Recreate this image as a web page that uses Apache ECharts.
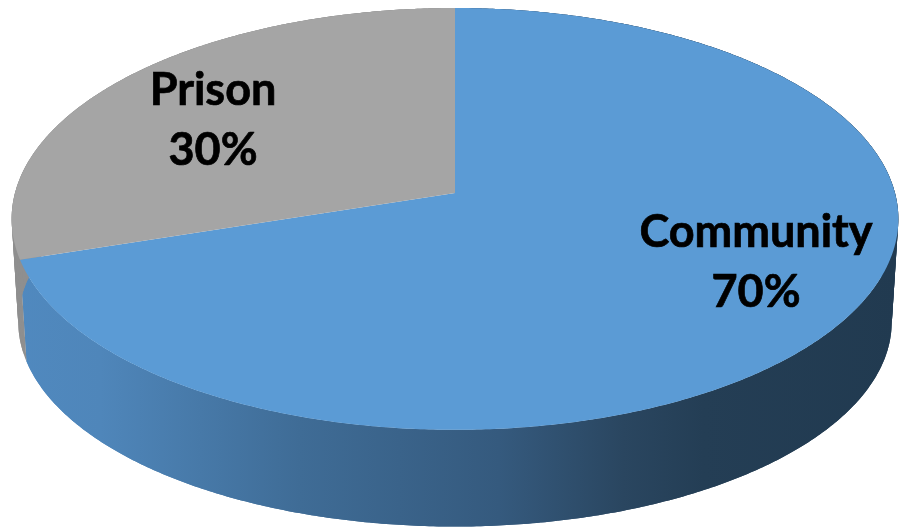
<!DOCTYPE html>
<html>
<head>
<meta charset="utf-8">
<style>html,body{margin:0;padding:0;background:#fff}#c{width:903px;height:530px}</style>
<script src="https://cdn.jsdelivr.net/npm/echarts@6/dist/echarts.min.js"></script>
</head>
<body>
<div id="c"></div>
<script>
var categories = ['Community', 'Prison'];
var values = [70, 30];

var total = values[0] + values[1];
var CX = 455, APEX = 193, K = 440, C = 0.123, A = -184;
var E_Y = 219, BOTTOM_Y = 322, SX = 0.985, SY = 0.97;

function topRim(deg) {
  var r = deg * Math.PI / 180, u = Math.sin(r), v = Math.cos(r), d = 1 + C * v;
  return [CX + K * u / d, (A * v + APEX) / d];
}
function bottomRim(deg) {
  var p = topRim(deg);
  return [CX + SX * (p[0] - CX), BOTTOM_Y + SY * (p[1] - E_Y)];
}
function arc(fn, a, b) {
  var pts = [], n = Math.max(2, Math.ceil(Math.abs(b - a) * 2)), i;
  for (i = 0; i <= n; i++) pts.push(fn(a + (b - a) * i / n));
  return pts;
}
function startAngle(idx) {
  var s = 0, i;
  for (i = 0; i < idx; i++) s += values[i];
  return s / total * 360;
}
var blueSide = new echarts.graphic.LinearGradient(12, 0, 898, 0, [
  {offset: 0, color: '#5089bf'},
  {offset: 0.1, color: '#4f86ba'},
  {offset: 0.325, color: '#3f6c96'},
  {offset: 0.55, color: '#355a7e'},
  {offset: 0.69, color: '#2a4660'},
  {offset: 0.78, color: '#243e55'},
  {offset: 1, color: '#213a50'}
], true);
var style = {
  Community: {face: '#5b9bd5', side: blueSide, labelDx: 301, labelDy: 69},
  Prison: {face: '#a5a5a5', side: '#8f8f8f', labelDx: -242, labelDy: -73}
};

function renderItem(params, api) {
  var i = params.dataIndex, s = style[categories[i]];
  var a = startAngle(i), b = a + api.value(0) / total * 360;
  var rim = arc(topRim, a, b);
  var face = [[CX, APEX]].concat(rim);
  var children = [];
  // the wall is swept around the rim in short overlapping bands
  for (var t = a; t < b; t += 2) {
    var e = Math.min(t + 4, b);
    children.push({
      type: 'polygon', z2: 1,
      shape: {points: arc(topRim, t, e).concat(arc(bottomRim, t, e).reverse())},
      style: {fill: s.side}
    });
  }
  children.push({type: 'polygon', z2: 2, shape: {points: face}, style: {fill: s.face}});
  children.push({
    type: 'text', z2: 3,
    x: CX + s.labelDx,
    y: APEX + s.labelDy,
    style: {
      text: categories[i] + '\n' + Math.round(api.value(0) / total * 100) + '%',
      font: 'bold 45px Lato, "Open Sans", sans-serif',
      fill: '#000', stroke: '#000', lineWidth: 0.7,
      align: 'center', verticalAlign: 'middle', lineHeight: 60
    }
  });
  return {type: 'group', children: children};
}
var chart = echarts.init(document.getElementById('c'), null, {renderer: 'canvas'});
chart.setOption({
  animation: false,
  backgroundColor: '#fff',
  series: [{
    type: 'custom',
    coordinateSystem: 'none',
    renderItem: renderItem,
    data: values.map(function (v, i) { return {name: categories[i], value: [v]}; })
  }]
});
</script>
</body>
</html>
